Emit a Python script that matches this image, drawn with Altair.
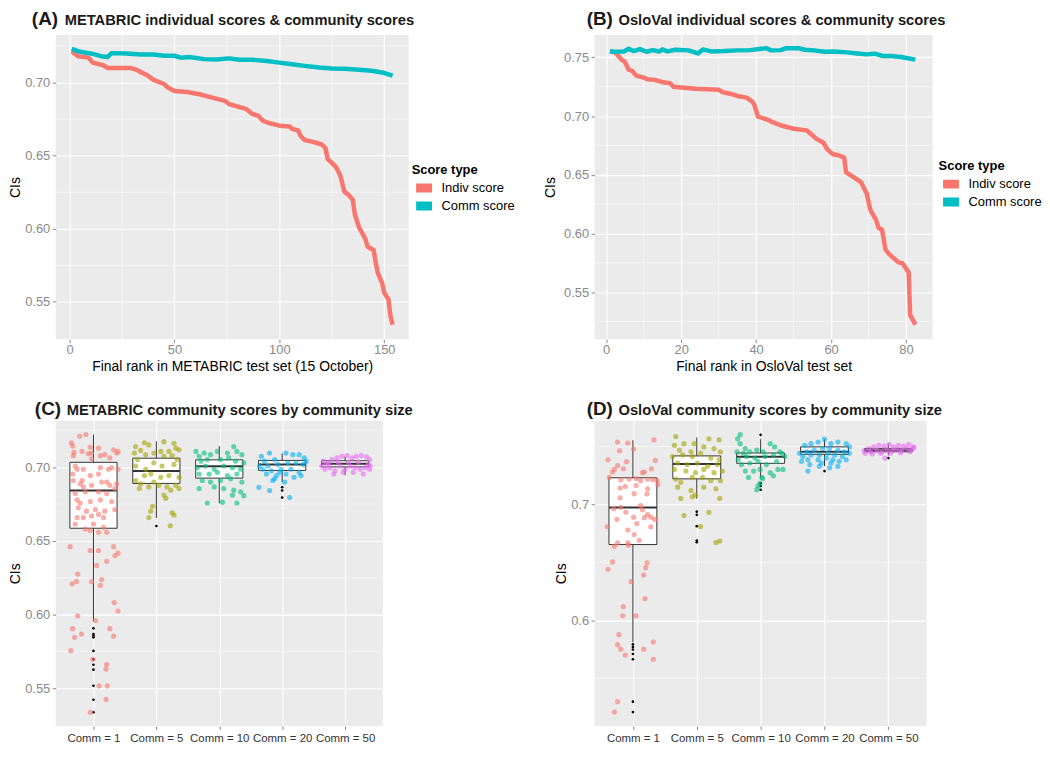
import altair as alt
import pandas as pd

FONT = "Liberation Sans"
IND, COM = "Indiv score", "Comm score"
SCORE_TYPES = [IND, COM]
SCORE_COLORS = ["#F8766D", "#00BFC4"]

GROUPS = ["Comm = 1", "Comm = 5", "Comm = 10", "Comm = 20", "Comm = 50"]
GROUP_COLORS = ["#F8766D", "#A3A500", "#00BF7D", "#00B0F6", "#E76BF3"]

# ---------------- Panel A : METABRIC ranks ----------------
a_indiv_rank = [1, 4, 9, 11, 16, 18, 29, 32, 34, 37, 40, 45, 47, 50, 56, 62, 68, 74, 76, 79,
                84, 87, 90, 92, 95, 100, 105, 106, 109, 110, 112, 116, 120, 122, 123, 125,
                127, 129, 131, 133, 135, 136, 138, 141, 142, 145, 146, 147, 149, 150, 152, 153, 154]
a_indiv_ci = [0.7214, 0.7180, 0.7170, 0.7136, 0.7118, 0.7100, 0.7100, 0.7087, 0.7070, 0.7050,
              0.7018, 0.6990, 0.6964, 0.6942, 0.6935, 0.6920, 0.6897, 0.6875, 0.6853, 0.6840,
              0.6820, 0.6786, 0.6772, 0.6740, 0.6723, 0.6705, 0.6700, 0.6683, 0.6672, 0.6638,
              0.6607, 0.6594, 0.6578, 0.6551, 0.6478, 0.6450, 0.6422, 0.6366, 0.6254, 0.6232,
              0.6199, 0.6098, 0.6009, 0.5931, 0.5879, 0.5853, 0.5763, 0.5696, 0.5629, 0.5562,
              0.5518, 0.5400, 0.5345]
a_comm_rank = [1, 5, 11, 15, 18, 20, 27, 34, 40, 45, 50, 53, 57, 64, 70, 76, 81, 87, 94, 100,
               106, 112, 119, 125, 131, 138, 144, 149, 154]
a_comm_ci = [0.7230, 0.7210, 0.7196, 0.7180, 0.7174, 0.7201, 0.7199, 0.7192, 0.7192, 0.7183,
             0.7183, 0.7170, 0.7174, 0.7160, 0.7158, 0.7165, 0.7156, 0.7156, 0.7147, 0.7136,
             0.7125, 0.7114, 0.7103, 0.7096, 0.7094, 0.7087, 0.7080, 0.7069, 0.7047]

# ---------------- Panel B : OsloVal ranks ----------------
b_indiv_rank = [1, 2.5, 4, 5, 6, 7, 8, 10, 11, 13, 15, 17, 18, 20, 24, 30, 31, 33, 35, 37.5,
                39, 39.5, 40.5, 43, 44, 47, 50, 53.5, 55, 56, 58, 59, 60.5, 62, 63.5, 64, 66,
                68, 69.5, 70.5, 72, 72.7, 73.6, 74.5, 75.5, 77, 78, 79, 80.7, 81.1, 82.5]
b_indiv_ci = [0.7553, 0.7539, 0.7483, 0.7461, 0.7394, 0.7383, 0.7344, 0.7327, 0.7313, 0.7308,
              0.7288, 0.7280, 0.7249, 0.7243, 0.7232, 0.7224, 0.7204, 0.7190, 0.7171, 0.7157,
              0.7121, 0.7098, 0.6995, 0.6970, 0.6953, 0.6917, 0.6892, 0.6878, 0.6836, 0.6808,
              0.6772, 0.6716, 0.6674, 0.6666, 0.6646, 0.6521, 0.6479, 0.6437, 0.6340, 0.6200,
              0.6116, 0.6047, 0.6033, 0.5865, 0.5824, 0.5782, 0.5754, 0.5748, 0.5670, 0.5307,
              0.5224]
b_comm_rank = [1, 2, 4.7, 6, 7.3, 9, 10.7, 12.4, 14.2, 15, 16.3, 18.5, 22, 24.5, 25.8, 28,
               31.4, 35, 38.4, 41.4, 42.7, 44, 46.6, 48, 51.3, 53, 55.6, 58.2, 60.8, 64.3,
               67, 69.5, 71.6, 73.8, 76.4, 79, 82.5]
b_comm_ci = [0.7553, 0.7547, 0.7550, 0.7572, 0.7553, 0.7570, 0.7547, 0.7561, 0.7550, 0.7567,
             0.7550, 0.7564, 0.7559, 0.7533, 0.7567, 0.7550, 0.7553, 0.7559, 0.7561, 0.7572,
             0.7578, 0.7559, 0.7561, 0.7578, 0.7578, 0.7564, 0.7559, 0.7547, 0.7550, 0.7542,
             0.7533, 0.7525, 0.7531, 0.7511, 0.7511, 0.7500, 0.7480]

# ---------------- Panel C : METABRIC community boxplots ----------------
c_q1 = [0.6586, 0.6890, 0.6926, 0.6978, 0.7002]
c_med = [0.6842, 0.6974, 0.7007, 0.7018, 0.7024]
c_q3 = [0.7033, 0.7061, 0.7050, 0.7046, 0.7044]
c_wlo = [0.5955, 0.6656, 0.6755, 0.6897, 0.6945]
c_whi = [0.7221, 0.7175, 0.7143, 0.7094, 0.7072]
c_outliers = [
    [0.5907, 0.5868, 0.5857, 0.5846, 0.5754, 0.5697, 0.5660, 0.5627, 0.5518, 0.5423, 0.5338],
    [0.6601],
    [],
    [0.6864, 0.6842, 0.6794],
    [],
]
# jittered points: (horizontal jitter in category units, CI)
c_pts_1 = [(-0.35, 0.7166), (-0.22, 0.7210), (-0.12, 0.7221), (-0.33, 0.7144), (-0.31, 0.7100),
           (-0.32, 0.7078), (-0.18, 0.7107), (-0.05, 0.7135), (-0.03, 0.7096), (0.11, 0.7078),
           (0.08, 0.7129), (0.18, 0.7085), (0.26, 0.7063), (0.32, 0.7118), (0.37, 0.7096),
           (0.39, 0.7107), (-0.03, 0.7057), (-0.08, 0.7092), (-0.26, 0.6986), (-0.33, 0.6954),
           (-0.29, 0.7008), (-0.16, 0.6986), (0.11, 0.6997), (0.24, 0.6986), (0.29, 0.6997),
           (0.39, 0.6986), (-0.18, 0.6910), (-0.05, 0.6943), (0.08, 0.6954), (0.13, 0.6899),
           (0.21, 0.6899), (0.37, 0.6888), (-0.32, 0.6910), (-0.21, 0.6888), (-0.16, 0.6866),
           (-0.03, 0.6877), (0.26, 0.6877), (0.34, 0.6855), (0.08, 0.6833), (-0.29, 0.6822),
           (-0.13, 0.6833), (0.21, 0.6822), (-0.26, 0.6778), (-0.21, 0.6757), (-0.05, 0.6767),
           (0.11, 0.6778), (0.29, 0.6767), (-0.24, 0.6724), (-0.11, 0.6702), (0.03, 0.6713),
           (0.08, 0.6680), (0.18, 0.6702), (0.34, 0.6713), (-0.26, 0.6658), (-0.16, 0.6658),
           (-0.03, 0.6669), (0.16, 0.6658), (-0.29, 0.6614), (0.00, 0.6614), (0.16, 0.6592),
           (-0.05, 0.6570), (0.08, 0.6559), (0.21, 0.6559), (-0.13, 0.6581), (-0.37, 0.6461),
           (-0.05, 0.6435), (0.08, 0.6435), (0.32, 0.6461), (0.39, 0.6417), (0.34, 0.6400),
           (0.21, 0.6362), (0.05, 0.6334), (-0.25, 0.6275), (-0.27, 0.6224), (-0.03, 0.6224),
           (0.13, 0.6238), (-0.34, 0.6209), (0.11, 0.6198), (0.33, 0.6082), (0.39, 0.6025),
           (-0.25, 0.5992), (0.03, 0.5960), (-0.33, 0.5905), (0.26, 0.5905), (-0.19, 0.5868),
           (-0.30, 0.5846), (0.32, 0.5854), (-0.36, 0.5756), (-0.01, 0.5697), (0.21, 0.5662),
           (0.20, 0.5631), (0.09, 0.5517), (0.22, 0.5517), (0.20, 0.5425), (-0.05, 0.5338)]
c_pts_5 = [(-0.33, 0.7140), (-0.19, 0.7166), (-0.12, 0.7151), (0.12, 0.7173), (0.28, 0.7162),
           (0.31, 0.7129), (-0.35, 0.7096), (-0.25, 0.7114), (-0.17, 0.7085), (-0.04, 0.7096),
           (0.07, 0.7107), (0.20, 0.7107), (0.36, 0.7118), (-0.30, 0.7052), (0.12, 0.7074),
           (0.25, 0.7078), (0.33, 0.7052), (-0.33, 0.7008), (-0.17, 0.6986), (-0.04, 0.7030),
           (0.09, 0.7008), (0.28, 0.7019), (-0.19, 0.6943), (-0.09, 0.6954), (0.07, 0.6932),
           (0.20, 0.6943), (0.36, 0.6932), (-0.33, 0.6910), (-0.25, 0.6888), (-0.04, 0.6899),
           (0.04, 0.6877), (0.17, 0.6866), (0.31, 0.6877), (-0.27, 0.6855), (-0.12, 0.6866),
           (0.23, 0.6844), (0.36, 0.6855), (0.12, 0.6811), (0.15, 0.6789), (-0.06, 0.6735),
           (-0.09, 0.6702), (-0.12, 0.6658), (0.25, 0.6691), (0.28, 0.6676), (0.22, 0.6603)]
c_pts_10 = [(-0.37, 0.7107), (-0.32, 0.7074), (-0.24, 0.7096), (-0.14, 0.7085), (-0.03, 0.7107),
            (0.13, 0.7096), (0.23, 0.7140), (0.28, 0.7107), (0.36, 0.7085), (-0.29, 0.7041),
            (-0.19, 0.7052), (0.02, 0.7052), (0.15, 0.7063), (0.26, 0.7041), (0.39, 0.7030),
            (-0.35, 0.6997), (-0.22, 0.7008), (-0.08, 0.6986), (0.07, 0.7008), (0.21, 0.6997),
            (0.34, 0.6986), (-0.32, 0.6954), (-0.16, 0.6954), (-0.03, 0.6965), (0.13, 0.6943),
            (0.28, 0.6954), (-0.27, 0.6910), (-0.14, 0.6899), (0.02, 0.6910), (0.18, 0.6921),
            (0.36, 0.6899), (-0.32, 0.6855), (-0.08, 0.6866), (0.07, 0.6855), (0.23, 0.6844),
            (0.34, 0.6833), (0.21, 0.6811), (0.39, 0.6807), (-0.19, 0.6757), (0.05, 0.6763),
            (0.28, 0.6757)]
c_pts_20 = [(-0.33, 0.7074), (-0.20, 0.7096), (-0.28, 0.7041), (-0.12, 0.7052), (0.06, 0.7096),
            (0.17, 0.7085), (0.27, 0.7085), (0.35, 0.7063), (-0.36, 0.7008), (-0.23, 0.7008),
            (-0.07, 0.7019), (0.09, 0.7030), (0.22, 0.7030), (0.33, 0.7019), (0.38, 0.7041),
            (-0.31, 0.6986), (-0.17, 0.6976), (-0.02, 0.6986), (0.14, 0.6986), (0.27, 0.6965),
            (-0.25, 0.6954), (-0.09, 0.6943), (0.06, 0.6954), (0.19, 0.6932), (-0.15, 0.6910),
            (0.04, 0.6899), (0.30, 0.6943), (-0.12, 0.6921), (-0.04, 0.6965), (-0.37, 0.6864),
            (-0.20, 0.6842), (0.12, 0.6794)]
c_pts_50 = [(-0.34, 0.7041), (-0.29, 0.7019), (-0.21, 0.7052), (-0.13, 0.7063), (-0.05, 0.7074),
            (0.03, 0.7078), (0.11, 0.7063), (0.18, 0.7074), (0.26, 0.7080), (0.34, 0.7070),
            (0.39, 0.7052), (-0.32, 0.6986), (-0.24, 0.6997), (-0.16, 0.6976), (-0.08, 0.7008),
            (0.00, 0.6986), (0.08, 0.7008), (0.16, 0.6997), (0.24, 0.6986), (0.32, 0.6997),
            (0.39, 0.6986), (-0.26, 0.7030), (-0.11, 0.7035), (0.05, 0.7035), (0.21, 0.7035),
            (0.37, 0.7019), (-0.18, 0.6954), (-0.03, 0.6965), (0.13, 0.6965), (0.29, 0.6954),
            (0.40, 0.7008), (-0.37, 0.7008)]

# ---------------- Panel D : OsloVal community boxplots ----------------
d_q1 = [0.6654, 0.7222, 0.7356, 0.7434, 0.7456]
d_med = [0.6975, 0.7351, 0.7412, 0.7456, 0.7470]
d_q3 = [0.7231, 0.7420, 0.7445, 0.7498, 0.7485]
d_wlo = [0.5810, 0.7050, 0.7231, 0.7331, 0.7425]
d_whi = [0.7556, 0.7579, 0.7565, 0.7565, 0.7525]
d_outliers = [
    [0.5791, 0.5769, 0.5747, 0.5708, 0.5663, 0.5296, 0.5206],
    [0.6938, 0.6911, 0.6813, 0.6688, 0.6674],
    [0.7602, 0.7184, 0.7161, 0.7128],
    [0.7289],
    [0.7401],
]
d_pts_1 = [(0.33, 0.7559), (-0.24, 0.7540), (-0.08, 0.7532), (-0.21, 0.7465), (0.01, 0.7479),
           (-0.39, 0.7387), (-0.10, 0.7370), (0.35, 0.7381), (-0.24, 0.7337), (-0.29, 0.7303),
           (-0.15, 0.7309), (-0.32, 0.7281), (0.18, 0.7281), (0.29, 0.7309), (0.15, 0.7275),
           (-0.37, 0.7234), (-0.19, 0.7214), (-0.06, 0.7220), (0.05, 0.7225), (0.12, 0.7206),
           (0.23, 0.7220), (0.31, 0.7214), (0.38, 0.7206), (0.39, 0.7170), (-0.20, 0.7142),
           (-0.12, 0.7156), (0.05, 0.7164), (0.23, 0.7136), (0.02, 0.7094), (-0.20, 0.7058),
           (0.22, 0.7092), (0.12, 0.6991), (-0.19, 0.6975), (-0.30, 0.6964), (-0.11, 0.6933),
           (0.15, 0.6955), (0.23, 0.6913), (0.28, 0.6891), (0.34, 0.6872), (-0.25, 0.6872),
           (0.18, 0.6886), (0.01, 0.6891), (-0.40, 0.6808), (0.06, 0.6835), (-0.08, 0.6780),
           (0.28, 0.6808), (0.02, 0.6741), (0.10, 0.6691), (-0.24, 0.6668), (-0.29, 0.6640),
           (-0.08, 0.6668), (-0.07, 0.6649), (-0.32, 0.6504), (0.22, 0.6496), (0.20, 0.6454),
           (-0.39, 0.6440), (0.17, 0.6390), (-0.03, 0.6334), (0.19, 0.6187), (-0.15, 0.6117),
           (-0.16, 0.6039), (0.05, 0.6039), (-0.22, 0.5875), (0.32, 0.5811), (-0.24, 0.5789),
           (-0.19, 0.5750), (0.17, 0.5750), (-0.12, 0.5699), (0.32, 0.5663), (-0.24, 0.5296),
           (-0.29, 0.5207)]
d_pts_5 = [(-0.33, 0.7587), (-0.20, 0.7526), (-0.04, 0.7526), (0.19, 0.7568), (0.35, 0.7559),
           (-0.35, 0.7512), (-0.27, 0.7470), (-0.09, 0.7456), (0.11, 0.7498), (0.27, 0.7484),
           (0.37, 0.7456), (-0.38, 0.7415), (-0.22, 0.7429), (-0.07, 0.7415), (0.06, 0.7443),
           (0.22, 0.7401), (0.35, 0.7387), (-0.30, 0.7359), (-0.15, 0.7345), (0.01, 0.7359),
           (0.17, 0.7331), (0.32, 0.7345), (-0.35, 0.7303), (-0.17, 0.7289), (-0.02, 0.7275),
           (0.11, 0.7303), (0.27, 0.7275), (0.40, 0.7289), (-0.33, 0.7220), (-0.25, 0.7192),
           (-0.07, 0.7234), (0.09, 0.7234), (0.22, 0.7206), (0.37, 0.7206), (-0.30, 0.7150),
           (-0.09, 0.7122), (0.11, 0.7150), (0.30, 0.7136), (-0.25, 0.7053), (-0.07, 0.7067),
           (-0.02, 0.7081), (0.36, 0.7053), (-0.20, 0.6905), (0.19, 0.6933), (0.06, 0.6810),
           (0.30, 0.6671), (0.36, 0.6685)]
d_pts_10 = [(-0.32, 0.7604), (-0.36, 0.7568), (-0.32, 0.7526), (-0.24, 0.7484), (-0.37, 0.7456),
            (-0.27, 0.7443), (-0.17, 0.7456), (-0.06, 0.7470), (0.04, 0.7456), (0.15, 0.7526),
            (0.22, 0.7498), (0.30, 0.7456), (0.38, 0.7415), (-0.35, 0.7387), (-0.22, 0.7415),
            (-0.09, 0.7401), (0.07, 0.7415), (0.20, 0.7429), (0.33, 0.7443), (-0.30, 0.7345),
            (-0.17, 0.7359), (-0.04, 0.7373), (0.09, 0.7345), (0.25, 0.7373), (0.35, 0.7303),
            (-0.24, 0.7289), (-0.11, 0.7289), (-0.01, 0.7303), (0.15, 0.7275), (0.27, 0.7303),
            (-0.19, 0.7234), (0.02, 0.7234), (0.20, 0.7248), (-0.01, 0.7184), (-0.04, 0.7161),
            (-0.06, 0.7128), (0.03, 0.7225)]
d_pts_20 = [(-0.31, 0.7512), (-0.21, 0.7526), (-0.10, 0.7540), (0.00, 0.7565), (0.10, 0.7526),
            (0.21, 0.7540), (0.34, 0.7526), (0.39, 0.7498), (-0.39, 0.7443), (-0.28, 0.7456),
            (-0.16, 0.7470), (-0.03, 0.7484), (0.08, 0.7484), (0.21, 0.7470), (0.31, 0.7456),
            (0.39, 0.7443), (-0.34, 0.7415), (-0.21, 0.7429), (-0.08, 0.7429), (0.05, 0.7443),
            (0.16, 0.7429), (0.28, 0.7415), (-0.26, 0.7387), (-0.10, 0.7387), (0.03, 0.7401),
            (0.13, 0.7387), (0.23, 0.7373), (0.34, 0.7387), (-0.23, 0.7345), (-0.05, 0.7359),
            (0.10, 0.7359), (0.21, 0.7331), (-0.26, 0.7289), (-0.08, 0.7331), (0.08, 0.7317),
            (-0.36, 0.7373)]
d_pts_50 = [(-0.38, 0.7465), (-0.31, 0.7484), (-0.23, 0.7498), (-0.15, 0.7512), (-0.07, 0.7504),
            (0.01, 0.7520), (0.08, 0.7498), (0.16, 0.7512), (0.24, 0.7504), (0.32, 0.7520),
            (0.39, 0.7498), (-0.36, 0.7443), (-0.28, 0.7456), (-0.18, 0.7470), (-0.10, 0.7456),
            (-0.02, 0.7476), (0.06, 0.7465), (0.13, 0.7476), (0.21, 0.7470), (0.29, 0.7484),
            (0.37, 0.7476), (0.40, 0.7493), (-0.25, 0.7437), (-0.12, 0.7443), (0.03, 0.7443),
            (0.19, 0.7448), (0.34, 0.7456), (-0.05, 0.7401)]

TXT = "#1a1a1a"
LABEL_GREY = "#8a8a8a"


def title_layers(tag, text, tag_x, text_x, base_y):
    tag_df = pd.DataFrame({"t": [tag]})
    txt_df = pd.DataFrame({"t": [text]})
    t1 = alt.Chart(tag_df).mark_text(align="left", baseline="alphabetic", font=FONT,
                                     fontWeight="bold", fontSize=19, color=TXT).encode(
        text="t:N", x=alt.value(tag_x), y=alt.value(base_y))
    t2 = alt.Chart(txt_df).mark_text(align="left", baseline="alphabetic", font=FONT,
                                     fontWeight="bold", fontSize=14.8, color=TXT).encode(
        text="t:N", x=alt.value(text_x), y=alt.value(base_y))
    return [t1, t2]


def line_panel(ind_rank, ind_ci, com_rank, com_ci, xdom, ydom, xticks, xminor, yticks,
               yminor, xtitle, tag, text, w, h, tag_x, text_x, base_y, ytpad, lx, ly):
    df = pd.concat([
        pd.DataFrame({"rank": ind_rank, "ci": ind_ci, "type": IND}),
        pd.DataFrame({"rank": com_rank, "ci": com_ci, "type": COM}),
    ], ignore_index=True)
    xs = alt.Scale(domain=xdom, nice=False, zero=False)
    ys = alt.Scale(domain=ydom, nice=False, zero=False)
    xax = alt.Axis(values=xticks, title=xtitle, format="d", labelPadding=1, titlePadding=3)
    yax = alt.Axis(values=yticks, title="CIs", format=".2f", titlePadding=ytpad)
    X = alt.X("rank:Q", scale=xs, axis=xax)
    Y = alt.Y("ci:Q", scale=ys, axis=yax)
    color = alt.Color("type:N", scale=alt.Scale(domain=SCORE_TYPES, range=SCORE_COLORS),
                      legend=alt.Legend(title="Score type", orient="none", legendX=lx, legendY=ly,
                                        symbolType="stroke", symbolStrokeWidth=9, symbolSize=256,
                                        clipHeight=16, padding=0, titlePadding=3, rowPadding=2,
                                        labelOffset=5))
    ymin = alt.Chart(pd.DataFrame({"ci": yminor})).mark_rule(color="white", strokeWidth=0.5).encode(y=Y)
    xmin = alt.Chart(pd.DataFrame({"rank": xminor})).mark_rule(color="white", strokeWidth=0.5).encode(x=X)
    base = alt.Chart(df)
    l1 = base.transform_filter(alt.datum.type == IND).mark_line(
        strokeWidth=4.5, strokeJoin="round").encode(x=X, y=Y, color=color)
    l2 = base.transform_filter(alt.datum.type == COM).mark_line(
        strokeWidth=4.5, strokeJoin="round").encode(x=X, y=Y, color=color)
    layers = [xmin, ymin, l1, l2] + title_layers(tag, text, tag_x, text_x, base_y)
    return alt.layer(*layers).properties(width=w, height=h)


def box_panel(q1, med, q3, wlo, whi, outliers, points, ydom, yticks, yminor, yfmt,
              tag, text, w, h, tag_x, text_x, base_y, ytpad):
    idx = list(range(1, len(GROUPS) + 1))
    box_df = pd.DataFrame({"grp": GROUPS, "idx": idx, "q1": q1, "med": med, "q3": q3,
                           "wlo": wlo, "whi": whi})
    out_rows = []
    for g, i, vals in zip(GROUPS, idx, outliers):
        for v in vals:
            out_rows.append({"grp": g, "idx": i, "ci": v})
    out_df = pd.DataFrame(out_rows)
    pt_rows = []
    for g, i, pts in zip(GROUPS, idx, points):
        for off, v in pts:
            pt_rows.append({"grp": g, "idx": i, "off": off, "ci": v})
    pt_df = pd.DataFrame(pt_rows)

    label_expr = "[''," + ",".join("'%s'" % g for g in GROUPS) + "][datum.value]"
    xs = alt.Scale(domain=[0.4, len(GROUPS) + 0.6], nice=False, zero=False)
    ys = alt.Scale(domain=ydom, nice=False, zero=False)
    xax = alt.Axis(values=idx, labelExpr=label_expr, title=None, labelColor="#333333",
                   labelFontSize=11.5, labelPadding=3, labelFlush=False)
    yax = alt.Axis(values=yticks, title="CIs", format=yfmt, titlePadding=ytpad)

    def X(f):
        return alt.X(f, scale=xs, axis=xax)

    def Y(f):
        return alt.Y(f, scale=ys, axis=yax)

    col = alt.Color("grp:N", scale=alt.Scale(domain=GROUPS, range=GROUP_COLORS), legend=None)

    ymin = alt.Chart(pd.DataFrame({"ci": yminor})).mark_rule(color="white", strokeWidth=0.5).encode(y=Y("ci:Q"))
    bb = alt.Chart(box_df).transform_calculate(lo="datum.idx - 0.375", hi="datum.idx + 0.375")
    whisk_hi = bb.mark_rule(color="#333333", strokeWidth=1).encode(x=X("idx:Q"), y=Y("q3:Q"), y2="whi:Q")
    whisk_lo = bb.mark_rule(color="#333333", strokeWidth=1).encode(x=X("idx:Q"), y=Y("wlo:Q"), y2="q1:Q")
    box = bb.mark_rect(fill="white", stroke="#333333", strokeWidth=1).encode(
        x=X("lo:Q"), x2="hi:Q", y=Y("q1:Q"), y2="q3:Q")
    median = bb.mark_rule(color="#333333", strokeWidth=2).encode(x=X("lo:Q"), x2="hi:Q", y=Y("med:Q"))
    outs = alt.Chart(out_df).mark_circle(color="black", size=7, opacity=1).encode(
        x=X("idx:Q"), y=Y("ci:Q"))
    pts = alt.Chart(pt_df).transform_calculate(pos="datum.idx + datum.off").mark_circle(
        size=27, opacity=0.6).encode(x=X("pos:Q"), y=Y("ci:Q"), color=col)
    layers = [ymin, whisk_hi, whisk_lo, box, median, outs, pts] + title_layers(tag, text, tag_x, text_x, base_y)
    return alt.layer(*layers).properties(width=w, height=h)


panel_a = line_panel(a_indiv_rank, a_indiv_ci, a_comm_rank, a_comm_ci,
                     [-6.65, 161.65], [0.5245, 0.7325], [0, 50, 100, 150], [25, 75, 125],
                     [0.55, 0.60, 0.65, 0.70], [0.575, 0.625, 0.675, 0.725],
                     "Final rank in METABRIC test set (15 October)",
                     "(A)", "METABRIC individual scores & community scores",
                     355, 306, -24, 9, -10, 2, 358, 130)
panel_b = line_panel(b_indiv_rank, b_indiv_ci, b_comm_rank, b_comm_ci,
                     [-3.1, 87.1], [0.510, 0.769], [0, 20, 40, 60, 80], [10, 30, 50, 70],
                     [0.55, 0.60, 0.65, 0.70, 0.75], [0.525, 0.575, 0.625, 0.675, 0.725],
                     "Final rank in OsloVal test set",
                     "(B)", "OsloVal individual scores & community scores",
                     340, 306, -8, 24, -10, 6, 346, 126)
panel_c = box_panel(c_q1, c_med, c_q3, c_wlo, c_whi, c_outliers,
                    [c_pts_1, c_pts_5, c_pts_10, c_pts_20, c_pts_50],
                    [0.5245, 0.7315], [0.55, 0.60, 0.65, 0.70], [0.575, 0.625, 0.675, 0.725], ".2f",
                    "(C)", "METABRIC community scores by community size",
                    329, 307, -21, 11, -6, 2)
panel_d = box_panel(d_q1, d_med, d_q3, d_wlo, d_whi, d_outliers,
                    [d_pts_1, d_pts_5, d_pts_10, d_pts_20, d_pts_50],
                    [0.5086, 0.7724], [0.6, 0.7], [0.55, 0.65, 0.75], ".1f",
                    "(D)", "OsloVal community scores by community size",
                    334, 307, -8, 24, -6, 2)

chart = alt.concat(
    panel_a, panel_b, panel_c, panel_d,
    columns=2, spacing={"row": 82, "column": 187}, bounds="flush", align="each",
).resolve_scale(
    x="independent", y="independent", color="independent"
).properties(padding=0).configure_axis(
    labelFont=FONT, titleFont=FONT, labelFontSize=13, titleFontSize=14, titleFontWeight="normal",
    titleColor="black", labelColor=LABEL_GREY, tickColor=LABEL_GREY, tickSize=3.5, tickWidth=1,
    domain=False, gridColor="white", gridWidth=1.1, labelPadding=2.5
).configure_view(fill="#EBEBEB", strokeWidth=0).configure_legend(
    titleFont=FONT, labelFont=FONT, titleFontSize=13, labelFontSize=13, titleFontWeight="bold",
    titleColor="black", labelColor="black"
)

chart.save("out.html", embed_options={"renderer": "svg", "actions": False})
